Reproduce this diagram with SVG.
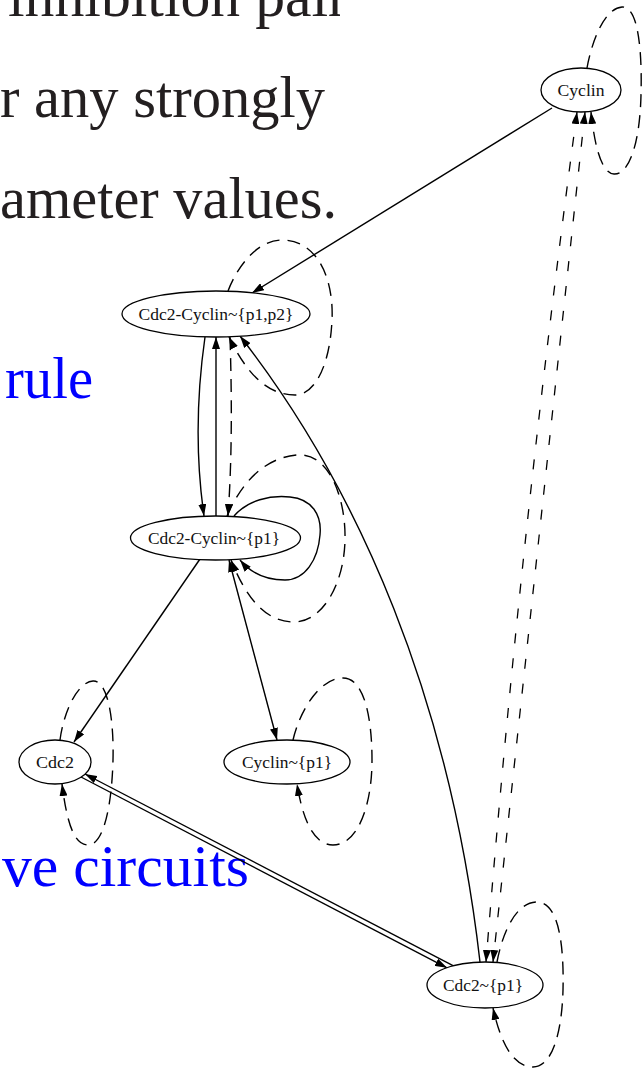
<svg xmlns="http://www.w3.org/2000/svg" width="644" height="1072" viewBox="0 0 644 1072">
  <style>
    .slide { font-family: "Liberation Serif", "DejaVu Serif", serif; font-size: 60px; fill: #231f20; }
    .blue { fill: #0000ff; }
    .node ellipse { fill: #ffffff; stroke: #000000; stroke-width: 1.3; }
    .node text { font-family: "Liberation Serif", "DejaVu Serif", serif; font-size: 17.5px; fill: #111111; text-anchor: middle; }
    .edge { fill: none; stroke: #000000; stroke-width: 1.4; }
    .dash { stroke-dasharray: 13 8; }
    .sparse { stroke-dasharray: 10 15; stroke-width: 1.3; }
    .arr { marker-end: url(#head); }
    .arr2 { marker-start: url(#tail); marker-end: url(#head); }
  </style>
  <defs>
    <marker id="head" markerUnits="userSpaceOnUse" markerWidth="12" markerHeight="8" refX="12" refY="4" orient="auto">
      <path d="M0,0 L12,4 L0,8 z" fill="#000000"/>
    </marker>
    <marker id="tail" markerUnits="userSpaceOnUse" markerWidth="12" markerHeight="8" refX="0" refY="4" orient="auto">
      <path d="M12,0 L0,4 L12,8 z" fill="#000000"/>
    </marker>
    <clipPath id="lineclip">
      <rect x="0" y="0" width="340" height="40"/>
    </clipPath>
  </defs>

  <!-- slide text behind the graph -->
  <g id="slide-text">
    <text class="slide" x="8" y="16" textLength="340" lengthAdjust="spacingAndGlyphs" clip-path="url(#lineclip)">inhibition pair</text>
    <text class="slide" x="0" y="117" textLength="325" lengthAdjust="spacingAndGlyphs">r any strongly</text>
    <text class="slide" x="0" y="218" textLength="337" lengthAdjust="spacingAndGlyphs">ameter values.</text>
    <text class="slide blue" x="5" y="398" textLength="88" lengthAdjust="spacingAndGlyphs">rule</text>
    <text class="slide blue" x="2" y="886" textLength="247" lengthAdjust="spacingAndGlyphs">ve circuits</text>
  </g>

  <!-- connectors -->
  <g id="edges">
    <!-- Cyclin -> Cdc2-Cyclin~{p1,p2} -->
    <path class="edge arr" d="M552,108 L252,293"/>
    <!-- Cyclin self-loop -->
    <path class="edge dash arr" d="M587,68 C592,40 605,8 622,7 C640,6 642,60 641,95 C640,140 630,175 614,174 C600,173 594,140 591,112"/>
    <!-- Cyclin <-> Cdc2~{p1} (two long dashed edges) -->
    <path class="edge sparse arr2" d="M577,112 Q520,537 486,962"/>
    <path class="edge sparse arr2" d="M585,112 L493,962"/>

    <!-- Cdc2-Cyclin~{p1,p2} self-loop -->
    <path class="edge dash arr" d="M228,291 C238,265 258,240 282,240 C318,240 334,280 332,320 C330,365 315,395 295,395 C265,395 245,370 229,337"/>
    <!-- Cdc2-Cyclin~{p1,p2} -> Cdc2-Cyclin~{p1} -->
    <path class="edge arr" d="M205,337 C196,400 196,460 204,516"/>
    <!-- Cdc2-Cyclin~{p1} -> Cdc2-Cyclin~{p1,p2} -->
    <path class="edge arr" d="M216,516 L216,337"/>
    <!-- dashed Cdc2-Cyclin~{p1,p2} -> Cdc2-Cyclin~{p1} -->
    <path class="edge dash arr" d="M230,337 C232,400 232,460 228,516"/>

    <!-- Cdc2-Cyclin~{p1} self-loops -->
    <path class="edge arr" d="M234,516 C248,500 270,495 290,497 C312,499 322,515 320,535 C318,560 305,580 285,580 C265,580 250,572 240,560"/>
    <path class="edge dash arr" d="M227,516 C238,490 260,458 297,455 C330,452 346,500 345,540 C344,585 322,622 294,622 C264,622 245,595 231,560"/>

    <!-- Cdc2-Cyclin~{p1} <-> Cyclin~{p1} -->
    <path class="edge arr2" d="M229,560 L277,740"/>
    <!-- Cdc2-Cyclin~{p1} -> Cdc2 -->
    <path class="edge arr" d="M200,559 L74,742"/>

    <!-- Cdc2 self-loop -->
    <path class="edge dash arr" d="M60,740 C64,710 78,682 93,681 C108,680 114,720 113,760 C112,800 105,845 88,845 C72,845 66,815 62,784"/>
    <!-- Cyclin~{p1} self-loop -->
    <path class="edge dash arr" d="M293,740 C300,710 320,678 343,678 C365,678 372,720 372,760 C372,805 358,845 333,845 C312,845 302,815 297,784"/>

    <!-- Cdc2 <-> Cdc2~{p1} -->
    <path class="edge arr" d="M453,965.7 L85,774"/>
    <path class="edge arr" d="M81,777 L447,967.8"/>

    <!-- Cdc2~{p1} -> Cdc2-Cyclin~{p1,p2} -->
    <path class="edge arr" d="M480,962 C450,700 360,490 240,336"/>
    <!-- Cdc2~{p1} self-loop -->
    <path class="edge dash arr" d="M497,962 C502,935 515,902 537,902 C560,902 564,950 563,990 C562,1030 553,1067 533,1067 C512,1067 500,1040 493,1008"/>
  </g>

  <!-- nodes -->
  <g id="node-cyclin" class="node">
    <ellipse cx="581" cy="90" rx="40" ry="22"/>
    <text x="581" y="96" textLength="47" lengthAdjust="spacingAndGlyphs">Cyclin</text>
  </g>
  <g id="node-cdc2-cyclin-p1p2" class="node">
    <ellipse cx="216" cy="314" rx="94" ry="23"/>
    <text x="216" y="320" textLength="155" lengthAdjust="spacingAndGlyphs">Cdc2-Cyclin~{p1,p2}</text>
  </g>
  <g id="node-cdc2-cyclin-p1" class="node">
    <ellipse cx="215.5" cy="538" rx="85" ry="22"/>
    <text x="214" y="544" textLength="132" lengthAdjust="spacingAndGlyphs">Cdc2-Cyclin~{p1}</text>
  </g>
  <g id="node-cdc2" class="node">
    <ellipse cx="55" cy="762" rx="36" ry="22"/>
    <text x="55" y="768" textLength="38" lengthAdjust="spacingAndGlyphs">Cdc2</text>
  </g>
  <g id="node-cyclin-p1" class="node">
    <ellipse cx="287" cy="762" rx="63" ry="22"/>
    <text x="287" y="768" textLength="90" lengthAdjust="spacingAndGlyphs">Cyclin~{p1}</text>
  </g>
  <g id="node-cdc2-p1" class="node">
    <ellipse cx="485" cy="985" rx="58" ry="23"/>
    <text x="483" y="991" textLength="80" lengthAdjust="spacingAndGlyphs">Cdc2~{p1}</text>
  </g>
</svg>
